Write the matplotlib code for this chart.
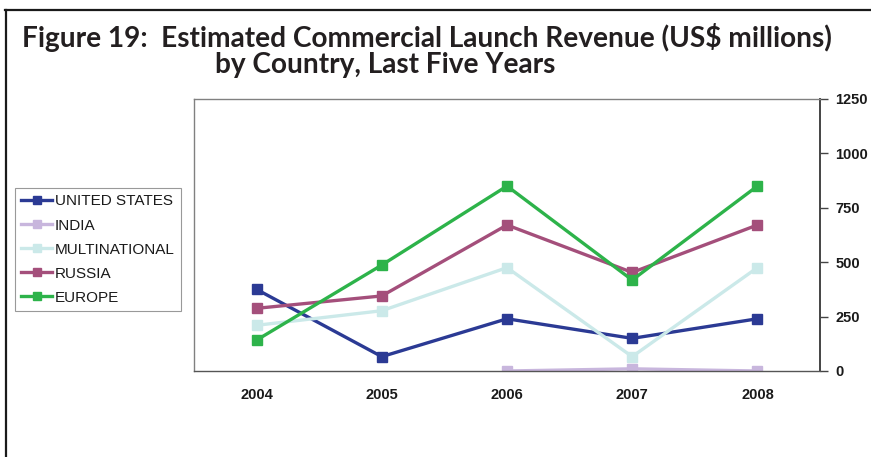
import numpy as np
import matplotlib
matplotlib.use("Agg")
import matplotlib.pyplot as plt
from matplotlib.lines import Line2D

years = ["2004", "2005", "2006", "2007", "2008"]
united_states = [375, 66, 240, 150, 240]
india = [np.nan, np.nan, 0, 10, 0]
multinational = [210, 277, 475, 66, 475]
russia = [288, 345, 671, 453, 671]
europe = [142, 487, 850, 418, 850]
yticks = [0, 250, 500, 750, 1000, 1250]

series = [
    ("UNITED STATES", united_states, "#2B3A94"),
    ("INDIA", india, "#C8B6DD"),
    ("MULTINATIONAL", multinational, "#CBE9E9"),
    ("RUSSIA", russia, "#A44F7B"),
    ("EUROPE", europe, "#2DB34A"),
]

W, H = 871, 457
fig = plt.figure(figsize=(W / 100, H / 100), dpi=100)

# frame lines (top and left)
fig.add_artist(Line2D([5 / W, 1], [1 - 10 / H, 1 - 10 / H], color="#1a1a1a", lw=1.6,
                      transform=fig.transFigure))
fig.add_artist(Line2D([6 / W, 6 / W], [0, 1 - 10 / H], color="#1a1a1a", lw=1.6,
                      transform=fig.transFigure))

fig.text(427 / W, 1 - 37 / H, "Figure 19:  Estimated Commercial Launch Revenue (US$ millions)",
         family="Lato", weight="bold", fontsize=20.2, color="#231f20", ha="center", va="center")
fig.text(385 / W, 1 - 65 / H, "by Country, Last Five Years",
         family="Lato", weight="bold", fontsize=20.2, color="#231f20", ha="center", va="center")

ax = fig.add_axes([194 / W, 1 - 371 / H, (820 - 194) / W, (371 - 99) / H])
x = np.arange(len(years))
order = [0, 2, 3, 4, 1]
handles = {}
for i in order:
    name, vals, col = series[i]
    h, = ax.plot(x, vals, color=col, lw=2.4, marker="s", markersize=6.5,
                 markeredgecolor=col, markerfacecolor=col, label=name)
    handles[name] = h

ax.set_xlim(-0.5, len(years) - 0.5)
ax.set_ylim(0, 1250)
ax.set_xticks(x)
ax.set_xticklabels(years)
ax.set_yticks(yticks)
ax.yaxis.tick_right()
ax.tick_params(axis="x", length=0, pad=12, labelsize=10.5)
ax.tick_params(axis="y", direction="out", length=6, width=1, color="#444444",
               pad=5, labelsize=10.5)
for lab in ax.get_xticklabels() + ax.get_yticklabels():
    lab.set_fontweight("bold")
    lab.set_family("Liberation Sans")
    lab.set_color("#1a1a1a")
for s in ["left", "top", "bottom"]:
    ax.spines[s].set_color("#808080")
    ax.spines[s].set_linewidth(1.0)
ax.spines["bottom"].set_color("#555555")
ax.spines["right"].set_color("#444444")
ax.spines["right"].set_linewidth(1.4)

leg = fig.legend([handles[s[0]] for s in series], [s[0] for s in series],
                 loc="upper left", bbox_to_anchor=(15 / W, 1 - 188 / H),
                 bbox_transform=fig.transFigure, frameon=True, fancybox=False,
                 edgecolor="#808080", prop={"family": "Liberation Sans", "size": 11},
                 handlelength=2.0, handletextpad=0.2, labelspacing=0.66,
                 borderpad=0.42, borderaxespad=0, markerscale=0.8)
leg.get_frame().set_linewidth(0.8)
for t in leg.get_texts():
    t.set_color("#1a1a1a")

fig.savefig("out.png", dpi=100)
